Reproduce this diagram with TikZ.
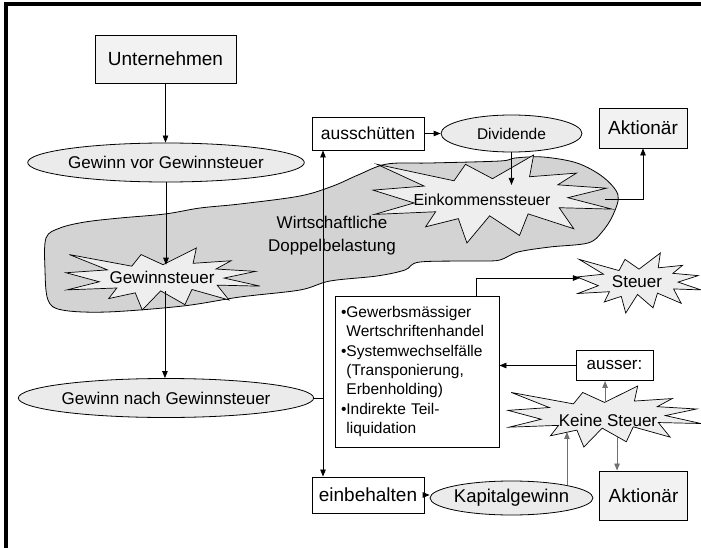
\documentclass[tikz,border=0pt]{standalone}
\usepackage{fontspec}
\setmainfont{Liberation Sans}
\usetikzlibrary{arrows.meta,shapes.geometric}
\definecolor{cloudgray}{HTML}{D3D3D3}
\definecolor{sealgray}{HTML}{EEEEEE}
\definecolor{ellgray}{HTML}{EBEBEB}
\definecolor{boxgray}{HTML}{F2F2F2}
\definecolor{linegray}{HTML}{707070}
\newcommand\myfs[1]{\fontsize{#1}{1.2\dimexpr#1pt\relax}\selectfont}
\newcommand\drawseal[5]{%
  \begin{scope}[shift={(#1,#2)},xscale=#3,yscale=#4]
    \filldraw[seal] (0.5,0.269) -- (0.672,0) -- (0.655,0.247) -- (0.851,0.206) -- (0.773,0.339) -- (0.977,0.377) -- (0.815,0.485) -- (1,0.615) -- (0.779,0.599) -- (0.840,0.838) -- (0.649,0.669) -- (0.613,0.914) -- (0.488,0.691) -- (0.393,1) -- (0.357,0.723) -- (0.220,0.816) -- (0.262,0.645) -- (0.006,0.675) -- (0.172,0.545) -- (0,0.399) -- (0.214,0.353) -- (0.017,0.106) -- (0.339,0.293) -- (0.387,0.106) -- cycle;
    #5
  \end{scope}}
\begin{document}
\begin{tikzpicture}[x=1pt,y=-1pt,
  every node/.style={inner sep=0pt},
  wbox/.style={draw, line width=0.9pt, fill=white},
  gbox/.style={draw, line width=0.9pt, fill=boxgray},
  ell/.style={ellipse, draw, line width=0.8pt, fill=ellgray},
  seal/.style={draw, line width=0.7pt, fill=sealgray, line join=miter},
  arr/.style={line width=0.8pt, -{Triangle[length=7pt,width=5.5pt]}},
  garr/.style={arr, draw=linegray},
  dblarr/.style={line width=0.8pt, {Triangle[length=7pt,width=5.5pt]}-{Triangle[length=7pt,width=5.5pt]}},
  conn/.style={line width=0.8pt},
]
\useasboundingbox (0,0) rectangle (701,548);
% frame
\draw[line width=4pt] (5.5,548) -- (5.5,4.5) -- (701,4.5);

% cloud
\filldraw[fill=cloudgray, draw=black, line width=0.8pt] plot[smooth cycle, tension=0.55] coordinates {
 (46,238) (60,228) (85,222) (120,218) (165,214) (200,208) (240,204) (300,196) (333,186) (358,175) (387,164) (430,163) (500,161) (515,158) (543,157) (577,163) (603,177) (618,195) (613,215) (602,232) (588,243) (550,247) (518,252) (500,260) (480,261) (420,262) (405,270) (377,276) (330,281) (300,290) (240,297) (183,306) (107,312) (62,310) (48,300) (45,270)};

% seals
\drawseal{66}{248}{194}{62}{\coordinate (gst-t) at (0.51,0.27); \coordinate (gst-b) at (0.51,0.69);}
\node[font=\myfs{17}] (gst) at (162,277) {Gewinnsteuer};

\drawseal{373}{155}{239}{88}{\coordinate (ekst-in) at (0.577,0.34); \coordinate (ekst-r) at (0.97,0.5);}
\node[font=\myfs{16}] (ekst) at (482,200) {Einkommenssteuer};

\drawseal{577}{253}{124}{60}{\coordinate (st-l) at (0.024,0.417);}
\node[font=\myfs{17}] (st) at (637,282) {Steuer};

\drawseal{508}{386}{193}{61}{\coordinate (ks-t) at (0.503,0.262); \coordinate (ks-b) at (0.565,0.836); \coordinate (ks-in) at (0.285,0.754);}
\node[font=\myfs{17}] (ks) at (608,420) {Keine Steuer};

\node[align=center, font=\fontsize{17}{23}\selectfont] (wd) at (332,236) {Wirtschaftliche\\Doppelbelastung};

% nodes
\node[gbox, minimum width=141, minimum height=48, font=\myfs{19}] (unt) at (165.5,59) {Unternehmen};
\node[ell, minimum width=248, minimum height=39, font=\myfs{17}] (gvor) at (166,162.5) {Gewinn vor Gewinnsteuer};
\node[ell, minimum width=248, minimum height=39, font=\myfs{17}] (gnach) at (166,398) {Gewinn nach Gewinnsteuer};
\node[wbox, minimum width=112, minimum height=33, font=\myfs{17.5}] (aus) at (368,133.5) {ausschütten};
\node[ell, minimum width=141, minimum height=37, font=\myfs{15.5}] (div) at (511.5,133.5) {Dividende};
\node[gbox, minimum width=88, minimum height=40, font=\myfs{19}] (akt1) at (643,128) {Aktionär};
\node[wbox, minimum width=112, minimum height=36, font=\myfs{19}] (einb) at (368,495) {einbehalten};
\node[ell, minimum width=141, minimum height=34, font=\myfs{18.5}] (kap) at (511.5,498) {Kapitalgewinn};
\node[gbox, minimum width=88, minimum height=49, font=\myfs{19}] (akt2) at (643.5,495.5) {Aktionär};
\node[wbox, minimum width=77, minimum height=30, font=\myfs{17}] (ausser) at (614.5,365.5) {ausser:};
\node[wbox, minimum width=164, minimum height=151, text width=152, inner xsep=6pt, align=left, font=\fontsize{15.5}{19.4}\selectfont] (list) at (417,371.5)
 {•Gewerbsmässiger\\\hphantom{•}Wertschriftenhandel\\•Systemwechselfälle\\\hphantom{•}(Transponierung,\\\hphantom{•}Erbenholding)\\•Indirekte Teil-\\\hphantom{•}liquidation};

% connectors
\coordinate (vline) at ([xshift=-45pt]aus.south);
\coordinate (stl-start) at ([xshift=59pt]list.north);
\draw[arr] (unt.south) -- (unt.south |- gvor.north);
\draw[arr] (gvor.south) -- (gvor.south |- gst-t);
\draw[arr] (gst-b) -- (gst-b |- gnach.north);
\draw[conn] (gnach.east) -- (vline |- gnach.east);
\draw[dblarr] (vline) -- (vline |- einb.north);
\draw[arr] (aus.east) -- (div.west);
\draw[arr] (div.south) -- (div.south |- ekst-in);
\draw[arr] (ekst-r) -| (akt1.south);
\draw[arr] (einb.east) -- (einb.east -| kap.west);
\draw[arr] (stl-start) |- (st-l);
\draw[arr] (ausser.west) -- (ausser.west -| list.east);
\draw[garr] (ks-t) -- (ks-t |- ausser.south);
\draw[garr] (ks-b) -- (ks-b |- akt2.north);
\draw[garr] (kap.13) -- (kap.13 |- ks-in);
\end{tikzpicture}
\end{document}
